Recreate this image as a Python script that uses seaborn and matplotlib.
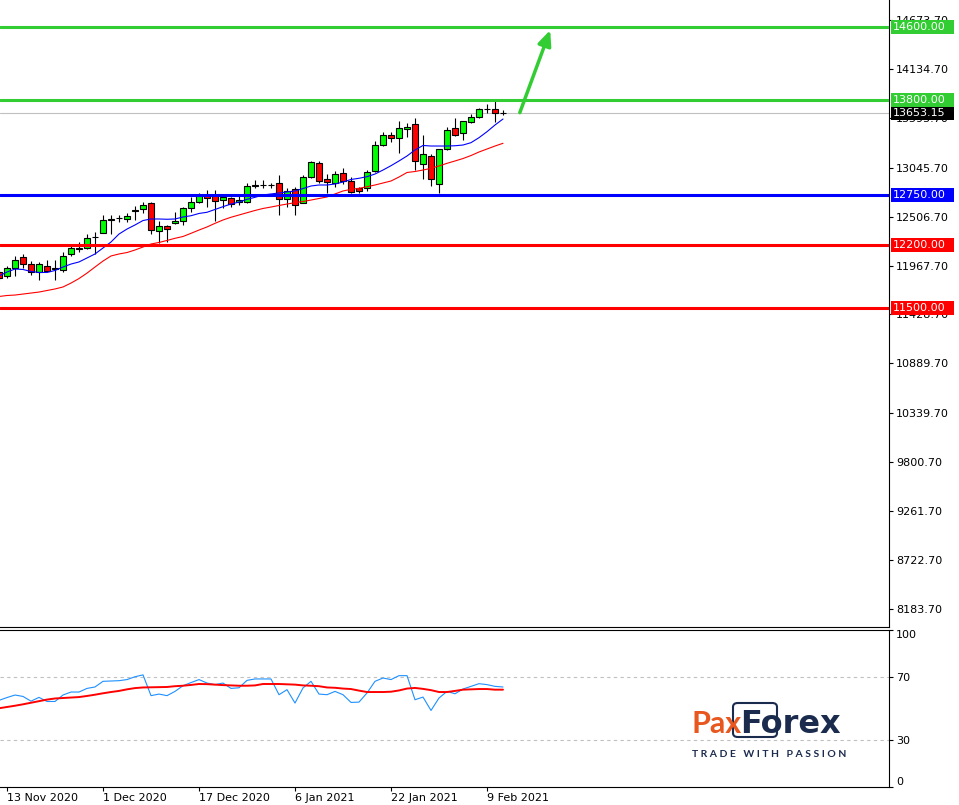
import numpy as np
import pandas as pd
import matplotlib.pyplot as plt
import matplotlib.transforms as mtransforms
import seaborn as sns
from matplotlib.patches import FancyBboxPatch, Rectangle

sns.set_style("white")
plt.rcParams['font.family'] = ['DejaVu Sans']

# Daily candles (bar 1 = 13 Nov 2020, bar 63 = last bar)
opens = [11900, 11857, 11945, 12060, 11983, 11894, 11967, 11930, 11920, 12093,
         12150, 12159, 12278, 12331, 12475, 12488, 12485, 12570, 12589, 12655,
         12353, 12405, 12435, 12463, 12600, 12673, 12747, 12747, 12695, 12710,
         12666, 12673, 12845, 12860, 12855, 12876, 12699, 12810, 12655, 12942,
         13097, 12920, 12883, 12986, 12905, 12821, 12821, 13015, 13298, 13409,
         13379, 13472, 13527, 13086, 13181, 12865, 13254, 13483, 13427, 13556,
         13611, 13690, 13692, 13655]
highs = [11915, 11967, 12074, 12093, 12018, 12011, 12030, 12034, 12122, 12203,
         12225, 12313, 12336, 12525, 12525, 12525, 12552, 12626, 12666, 12673,
         12463, 12416, 12559, 12611, 12728, 12769, 12802, 12802, 12747, 12728,
         12736, 12876, 12912, 12912, 12883, 12968, 12821, 12839, 12968, 13125,
         13125, 12979, 13015, 13041, 12942, 12832, 13023, 13346, 13445, 13445,
         13563, 13538, 13593, 13409, 13196, 13254, 13500, 13593, 13563, 13640,
         13703, 13747, 13784, 13688]
lows = [11810, 11828, 11857, 11945, 11862, 11809, 11894, 11809, 11894, 12078,
        12122, 12150, 12093, 12325, 12313, 12452, 12452, 12471, 12545, 12317,
        12221, 12232, 12427, 12416, 12563, 12662, 12611, 12464, 12600, 12611,
        12637, 12655, 12821, 12821, 12828, 12526, 12618, 12526, 12655, 12931,
        12883, 12772, 12832, 12868, 12772, 12766, 12795, 13004, 13291, 13335,
        13207, 13390, 13023, 12923, 12850, 12766, 13243, 13401, 13354, 13538,
        13600, 13648, 13549, 13630]
closes = [11827, 11945, 12034, 11983, 11894, 11990, 11909, 11938, 12078, 12159,
          12159, 12276, 12284, 12471, 12481, 12492, 12515, 12578, 12640, 12361,
          12405, 12375, 12460, 12600, 12666, 12747, 12710, 12684, 12721, 12648,
          12692, 12846, 12852, 12855, 12860, 12699, 12795, 12637, 12942, 13108,
          12905, 12894, 12979, 12905, 12783, 12795, 12997, 13298, 13409, 13372,
          13483, 13497, 13122, 13196, 12923, 13254, 13464, 13409, 13563, 13604,
          13696, 13696, 13648, 13653.15]

# moving averages drawn on the price chart
ma_fast = [11853, 11897, 11930, 11925, 11903, 11892, 11892, 11914, 11952, 11985,
           12008, 12052, 12096, 12162, 12228, 12316, 12371, 12416, 12465, 12482,
           12482, 12479, 12482, 12504, 12518, 12543, 12556, 12587, 12618, 12647,
           12669, 12699, 12721, 12747, 12758, 12769, 12780, 12791, 12818, 12846,
           12857, 12857, 12868, 12890, 12918, 12931, 12949, 12978, 13022, 13070,
           13122, 13177, 13243, 13293, 13287, 13287, 13287, 13290, 13298, 13324,
           13379, 13445, 13519, 13585]
ma_slow = [11627, 11638, 11643, 11654, 11665, 11676, 11693, 11710, 11732, 11775,
           11825, 11885, 11952, 12018, 12074, 12096, 12112, 12140, 12173, 12206,
           12223, 12245, 12269, 12289, 12324, 12360, 12394, 12434, 12471, 12501,
           12526, 12551, 12576, 12598, 12614, 12631, 12647, 12662, 12675, 12691,
           12708, 12725, 12758, 12791, 12809, 12820, 12838, 12857, 12879, 12901,
           12945, 12995, 13006, 13022, 13041, 13067, 13096, 13122, 13149, 13182,
           13221, 13254, 13287, 13317]

# oscillator sub-window
osc = [55, 56.8, 58.4, 57.5, 54.5, 56.9, 54.3, 54.3, 58.4, 60.3,
       60.3, 62.6, 63.5, 67.1, 67.3, 67.5, 68.2, 70, 71.2, 58,
       59, 58, 60.7, 64.3, 66.3, 68.2, 66, 65, 66, 62.6,
       63, 67.7, 68.6, 68.6, 68.6, 58.6, 61.8, 53.3, 62.9, 67.1,
       59, 58.6, 60.7, 58.6, 53.7, 53.9, 59.7, 67.1, 69.2, 68.2,
       70.7, 70.7, 55.4, 57.1, 48.6, 56.5, 60.7, 59.2, 62.2, 63.9,
       65.6, 65, 63.9, 63.5]
osc_signal = [50, 50.8, 51.6, 52.5, 53.5, 54.5, 55.5, 56.2, 56.5, 56.8,
              57.1, 57.8, 58.6, 59.5, 60.3, 61, 62, 62.8, 63.2, 63.3,
              63.4, 63.5, 64, 64.3, 64.8, 65.4, 65.3, 65, 64.7, 64.5,
              64.3, 64.3, 64.5, 65.4, 65.4, 65.4, 65.2, 65, 64.5, 64.3,
              64, 63.2, 63, 62.5, 62.2, 61.2, 60.3, 60.3, 60.3, 60.5,
              61.3, 62.5, 62.9, 62.3, 61.5, 60.3, 60.3, 61, 61.8, 62,
              62.2, 62.2, 61.8, 61.8]

date_labels = ['13 Nov 2020', '1 Dec 2020', '17 Dec 2020', '6 Jan 2021', '22 Jan 2021', '9 Feb 2021']
date_bars = [1, 13, 25, 37, 49, 61]

price_ticks = [14673.70, 14134.70, 13595.70, 13045.70, 12506.70, 11967.70, 11428.70,
               10889.70, 10339.70, 9800.70, 9261.70, 8722.70, 8183.70]
osc_ticks = [0, 30, 70, 100]

levels = [14600, 13800, 12750, 12200, 11500]
level_colors = ['#32CD32', '#32CD32', '#0000FF', '#FF0000', '#FF0000']
last_price = 13653.15

df = pd.DataFrame({'bar': np.arange(len(closes)), 'open': opens, 'high': highs,
                   'low': lows, 'close': closes, 'ma_fast': ma_fast, 'ma_slow': ma_slow,
                   'osc': osc, 'osc_signal': osc_signal})

W, H = 959, 805
fig = plt.figure(figsize=(W / 100, H / 100), dpi=100)
ax = fig.add_axes([0, 1 - 627 / H, 889 / W, 627 / H])
ax2 = fig.add_axes([0, 1 - 787 / H, 889 / W, 157.5 / H])

ymin, ymax = 7980.8, 14897.9
pts_per_px = (ymax - ymin) / 627

# candles
ax.vlines(df['bar'], df['low'], df['high'], color='black', lw=0.8, zorder=2)
body_bottom = np.minimum(df['open'], df['close'])
body_height = np.abs(df['close'] - df['open'])
body_colors = np.where(df['close'] >= df['open'], '#00FF00', '#FF0000')
ax.bar(df['bar'], body_height, bottom=body_bottom, width=0.65, color=body_colors,
       edgecolor='black', linewidth=0.8, zorder=3)

sns.lineplot(data=df, x='bar', y='ma_fast', ax=ax, color='#0000FF', lw=0.8, zorder=4)
sns.lineplot(data=df, x='bar', y='ma_slow', ax=ax, color='#FF0000', lw=0.8, zorder=4)

# price tags on the right scale
tag_trans = mtransforms.blended_transform_factory(ax.transAxes, ax.transData)


def price_tag(value, color):
    ax.add_patch(Rectangle((1 + 2 / 889, value - 7 * pts_per_px), 63 / 889, 14 * pts_per_px,
                           transform=tag_trans, fc=color, ec='none', clip_on=False, zorder=8))
    ax.text(1 + 4 / 889, value, f'{value:.2f}', transform=tag_trans, ha='left', va='center',
            color='white', fontsize=8, clip_on=False, zorder=9)


ax.axhline(last_price, color='#C0C0C0', lw=0.8, zorder=1)
price_tag(last_price, 'black')
for v, col in zip(levels, level_colors):
    ax.axhline(v, color=col, lw=2.2, zorder=5)
    price_tag(v, col)

# target arrow
ax.annotate('', xy=(68.9, 14565), xytext=(65.1, 13655),
            arrowprops=dict(arrowstyle='-|>,head_length=0.9,head_width=0.4',
                            color='#32CD32', lw=2.5, shrinkA=0, shrinkB=0),
            annotation_clip=False, zorder=6)

ax.set_xlim(0.125, 111.25)
ax.set_ylim(ymin, ymax)
ax.set_xticks([])
ax.set_yticks(price_ticks)
ax.set_yticklabels([f'{v:.2f}' for v in price_ticks])
ax.tick_params(axis='y', left=False, right=True, labelleft=False, labelright=True,
               direction='out', length=3, width=0.8, pad=2, labelsize=8, colors='black')
ax.set_xlabel('')
ax.set_ylabel('')
for s in ['left', 'top']:
    ax.spines[s].set_visible(False)
for s in ['right', 'bottom']:
    ax.spines[s].set_color('black')
    ax.spines[s].set_linewidth(0.8)

# oscillator
sns.lineplot(data=df, x='bar', y='osc', ax=ax2, color='#1E90FF', lw=0.8, zorder=3)
sns.lineplot(data=df, x='bar', y='osc_signal', ax=ax2, color='#FF0000', lw=1.4, zorder=4)
for lvl in [70, 30]:
    ax2.axhline(lvl, color='#C0C0C0', lw=0.8, ls=(0, (3, 3)), zorder=1)
ax2.set_xlim(0.125, 111.25)
ax2.set_ylim(0, 100)
ax2.set_yticks(osc_ticks)
ax2.set_yticklabels([str(v) for v in osc_ticks])
ax2.tick_params(axis='y', left=False, right=True, labelleft=False, labelright=True,
                direction='out', length=3, width=0.8, pad=2, labelsize=8, colors='black')
for lbl in ax2.get_yticklabels():
    if lbl.get_text() == '100':
        lbl.set_va('top')
    elif lbl.get_text() == '0':
        lbl.set_va('bottom')
ax2.set_xticks(date_bars)
ax2.set_xticklabels(date_labels)
ax2.tick_params(axis='x', bottom=True, direction='out', length=3, width=0.8, pad=1.5,
                labelsize=8, colors='black')
for lbl in ax2.get_xticklabels():
    lbl.set_ha('left')
ax2.set_xlabel('')
ax2.set_ylabel('')
ax2.spines['left'].set_visible(False)
for s in ['right', 'bottom', 'top']:
    ax2.spines[s].set_color('black')
    ax2.spines[s].set_linewidth(0.8)

# logo
orange = '#E8571E'
navy = '#1B2B4D'
fig.patches.append(FancyBboxPatch((733 / W, 1 - 737 / H), 44 / W, 34 / H,
                                  boxstyle='round,pad=0,rounding_size=0.005',
                                  transform=fig.transFigure, fill=False, ec=navy, lw=1.5))
fig.text(692 / W, 1 - 733 / H, 'Pax', color=orange, fontsize=22, fontweight='bold',
         family='Lato', va='baseline', ha='left')
fig.text(740 / W, 1 - 733 / H, 'Forex', color=navy, fontsize=23, fontweight='bold',
         family='DejaVu Sans', va='baseline', ha='left')
fig.text(692 / W, 1 - 757 / H, 'T R A D E   W I T H   P A S S I O N', color=navy,
         fontsize=7.5, fontweight='bold', family='Lato', va='baseline', ha='left')

fig.savefig('out.png', dpi=100)
